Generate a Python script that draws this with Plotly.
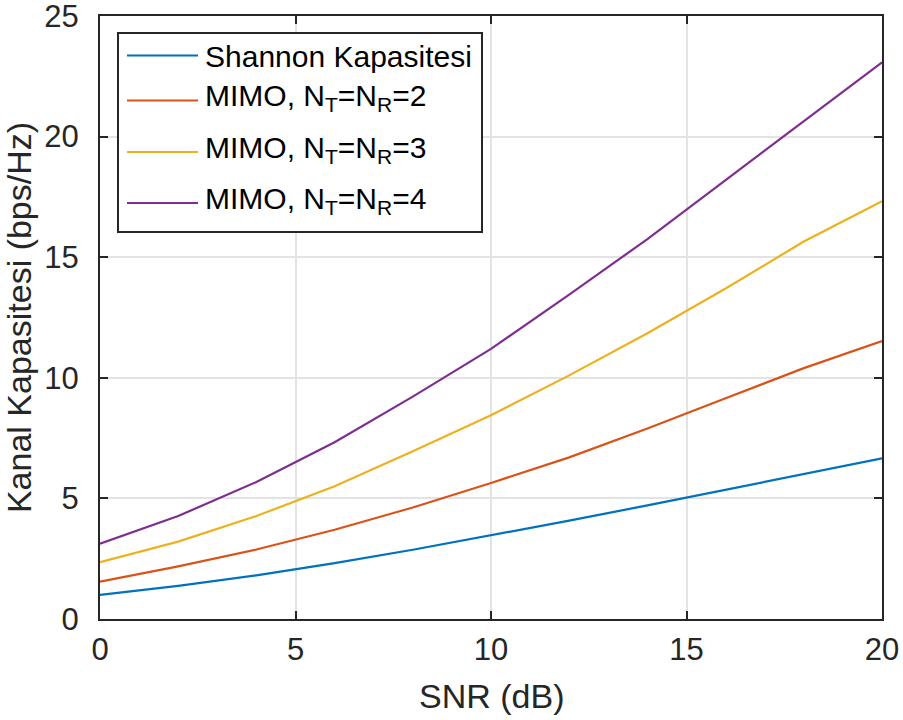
import plotly.graph_objects as go

snr_db = [0, 2, 4, 6, 8, 10, 12, 14, 16, 18, 20]
shannon = [1.00, 1.37, 1.81, 2.32, 2.87, 3.46, 4.08, 4.71, 5.35, 6.00, 6.66]
mimo2 = [1.55, 2.18, 2.88, 3.70, 4.62, 5.64, 6.70, 7.90, 9.15, 10.40, 11.52]
mimo3 = [2.36, 3.21, 4.27, 5.50, 6.95, 8.45, 10.10, 11.85, 13.70, 15.65, 17.32]
mimo4 = [3.12, 4.27, 5.68, 7.33, 9.22, 11.20, 13.45, 15.75, 18.20, 20.65, 23.08]

names = ["Shannon Kapasitesi",
         "MIMO, N<sub>T</sub>=N<sub>R</sub>=2",
         "MIMO, N<sub>T</sub>=N<sub>R</sub>=3",
         "MIMO, N<sub>T</sub>=N<sub>R</sub>=4"]
colors = ["#0072BD", "#D95319", "#EDB120", "#7E2F8E"]
series = [shannon, mimo2, mimo3, mimo4]
x_title = "SNR (dB)"
y_title = "Kanal Kapasitesi (bps/Hz)"

W, H = 903, 720
L, T = 100, 16
pw, ph = 782, 603
R, B = W - L - pw, H - T - ph

def px(x):  # page pixel -> paper
    return (x - L) / pw

def py(y):
    return (T + ph - y) / ph

fig = go.Figure()
for n, c, s in zip(names, colors, series):
    fig.add_trace(go.Scatter(x=snr_db, y=s, mode="lines", name=n,
                             line=dict(color=c, width=2.2), showlegend=False))

axcol = "#262626"
fam = "Liberation Sans, Arial, sans-serif"
tickfont = dict(family=fam, size=31, color=axcol)
titlefont = dict(family=fam, size=34, color=axcol)
legfont = dict(family=fam, size=30, color="black")

shapes = [dict(type="rect", xref="paper", yref="paper",
               x0=px(118), x1=px(482), y0=py(33), y1=py(232),
               line=dict(color=axcol, width=2), fillcolor="white", layer="above")]
annotations = []
rows = [55.5, 100.5, 152, 203]
for n, c, ry in zip(names, colors, rows):
    shapes.append(dict(type="line", xref="paper", yref="paper",
                       x0=px(127), x1=px(198), y0=py(ry), y1=py(ry),
                       line=dict(color=c, width=2.2), layer="above"))
    ty = ry + 1 if "sub" not in n else ry - 3
    annotations.append(dict(xref="paper", yref="paper", x=px(203), y=py(ty),
                            text=n, showarrow=False, xanchor="left", yanchor="middle",
                            font=legfont))

annotations.append(dict(xref="paper", yref="paper", x=0.5, y=py(696),
                        text=x_title, showarrow=False, xanchor="center", yanchor="middle",
                        font=titlefont))

fig.update_layout(
    width=W, height=H,
    margin=dict(l=L, r=R, t=T, b=B, pad=0, autoexpand=False),
    paper_bgcolor="white", plot_bgcolor="white",
    font=tickfont,
    shapes=shapes, annotations=annotations,
    showlegend=False,
    xaxis=dict(range=[0, 20], tickvals=[0, 5, 10, 15, 20], ticks="inside", ticklen=8,
               tickwidth=2, tickcolor=axcol, showline=True, linecolor=axcol, linewidth=2,
               mirror="allticks", showgrid=True, gridcolor="#e3e3e3", gridwidth=2,
               zeroline=False, automargin=False,
               tickfont=tickfont, ticklabelstandoff=2, ticklabeloverflow="allow"),
    yaxis=dict(range=[0, 25], tickvals=[0, 5, 10, 15, 20, 25], ticks="inside", ticklen=8,
               tickwidth=2, tickcolor=axcol, showline=True, linecolor=axcol, linewidth=2,
               mirror="allticks", showgrid=True, gridcolor="#e3e3e3", gridwidth=2,
               zeroline=False, automargin=False,
               title=dict(text=y_title, standoff=6, font=titlefont),
               tickfont=tickfont, ticklabelstandoff=13, ticklabeloverflow="allow"),
)

fig.write_html("out.html", config={"displayModeBar": False},
               post_script="document.body.style.margin='0';document.body.style.overflow='hidden';")
